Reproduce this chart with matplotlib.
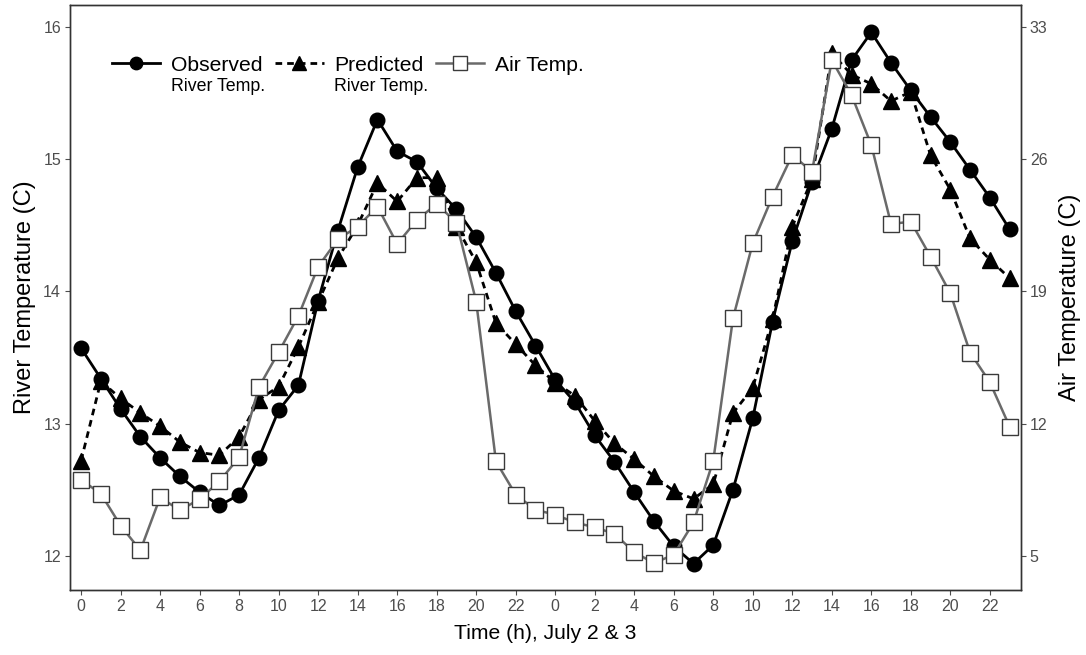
import numpy as np
import matplotlib
matplotlib.use("Agg")
import matplotlib.pyplot as plt

plt.rcParams['font.family'] = ['Liberation Sans', 'DejaVu Sans']

# hours 0..47 (July 2 & 3)
hours = np.arange(48)

observed = [13.57, 13.34, 13.11, 12.90, 12.74, 12.60, 12.48, 12.38, 12.46, 12.74,
            13.10, 13.29, 13.93, 14.46, 14.94, 15.30, 15.06, 14.98, 14.78, 14.62,
            14.41, 14.14, 13.85, 13.59, 13.33, 13.16, 12.91, 12.71, 12.48, 12.26,
            12.07, 11.94, 12.08, 12.50, 13.04, 13.77, 14.38, 14.83, 15.23, 15.75,
            15.96, 15.73, 15.52, 15.32, 15.13, 14.92, 14.71, 14.47]

predicted = [12.72, 13.32, 13.19, 13.08, 12.98, 12.86, 12.78, 12.76, 12.90, 13.18,
             13.28, 13.58, 13.92, 14.25, 14.50, 14.82, 14.68, 14.86, 14.86, 14.49,
             14.22, 13.76, 13.60, 13.44, 13.31, 13.21, 13.02, 12.85, 12.73, 12.60,
             12.49, 12.43, 12.54, 13.08, 13.27, 13.79, 14.49, 14.85, 15.80, 15.64,
             15.57, 15.44, 15.51, 15.03, 14.77, 14.40, 14.24, 14.10]

air = [9.02, 8.28, 6.59, 5.28, 8.09, 7.40, 8.00, 8.93, 10.22, 13.93,
       15.78, 17.70, 20.31, 21.76, 22.43, 23.49, 21.51, 22.78, 23.63, 22.64,
       18.46, 9.99, 8.23, 7.43, 7.17, 6.76, 6.50, 6.16, 5.18, 4.61,
       5.05, 6.76, 10.03, 17.58, 21.55, 24.02, 26.22, 25.34, 31.25, 29.40,
       26.75, 22.57, 22.69, 20.84, 18.90, 15.76, 14.19, 11.84]

river_ticks = [12, 13, 14, 15, 16]
air_ticks = [5, 12, 19, 26, 33]
x_ticks = np.arange(0, 48, 2)
x_ticklabels = [str(h % 24) for h in x_ticks]

fig = plt.figure(figsize=(10.86, 6.55), dpi=100)
ax = fig.add_axes([0.0645, 0.0992, 0.8755, 0.8932])
ax2 = ax.twinx()

tick_col = '#4D4D4D'

l1, = ax.plot(hours, observed, color='black', lw=2.0, marker='o', ms=10.5,
              label='Observed')
l2, = ax.plot(hours, predicted, color='black', lw=2.0, ls=(0, (2.4, 1.8)),
              marker='^', ms=11.5, label='Predicted')
l3, = ax2.plot(hours, air, color='#6A6A6A', lw=1.8, marker='s', ms=11.5,
               mfc='white', mec='#3A3A3A', mew=1.0, label='Air Temp.')

ylo, yhi = 11.74, 16.167
ax.set_ylim(ylo, yhi)
ax2.set_ylim(5 + 7 * (ylo - 12), 5 + 7 * (yhi - 12))
ax.set_xlim(-0.56, 47.57)

ax.set_xticks(x_ticks)
ax.set_xticklabels(x_ticklabels)
ax.set_yticks(river_ticks)
ax2.set_yticks(air_ticks)

for a in (ax, ax2):
    a.tick_params(colors=tick_col, labelsize=11.5, length=3.5, width=0.8, pad=3)
    for s in a.spines.values():
        s.set_color('#333333')
        s.set_linewidth(1.0)

ax.set_xlabel('Time (h), July 2 & 3', fontsize=15.2, labelpad=7)
ax.set_ylabel('River Temperature (C)', fontsize=17, labelpad=5)
ax2.set_ylabel('Air Temperature (C)', fontsize=17, labelpad=8)

leg = ax2.legend(handles=[l1, l2, l3], loc='center left', ncol=3,
                 bbox_to_anchor=(0.044, 0.897), frameon=False, fontsize=15.2,
                 markerscale=0.85, handlelength=2.3, columnspacing=0.57,
                 handletextpad=0.52, borderpad=0, borderaxespad=0)

# second line of the legend labels
fig.canvas.draw()
inv = fig.transFigure.inverted()
for t in leg.get_texts()[:2]:
    bb = t.get_window_extent()
    x0, y0 = inv.transform((bb.x0, bb.y0 - 3))
    fig.text(x0, y0, 'River Temp.', fontsize=12.8, va='top', ha='left')

fig.savefig('out.png', dpi=100)
